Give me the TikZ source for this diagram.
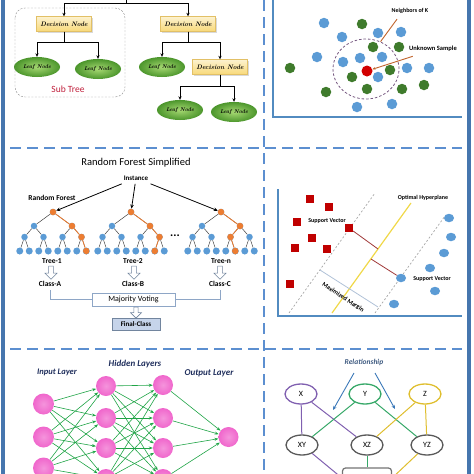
\documentclass[tikz,border=0pt]{standalone}
\usepackage{fontspec}
\newfontfamily\carlito{Carlito}
\usetikzlibrary{arrows.meta,shapes.geometric,shapes.arrows,shadows}
\newcommand\fsz[1]{\fontsize{#1}{#1}\selectfont}
\definecolor{framebl}{HTML}{4676AE}
\definecolor{dashbl}{HTML}{5C8FD0}
\definecolor{decfill}{HTML}{F8D978}
\definecolor{decdraw}{HTML}{E2C066}
\definecolor{leafin}{HTML}{A6D872}
\definecolor{leafout}{HTML}{4C962C}
\definecolor{knnblue}{HTML}{5B9BD5}
\definecolor{knngreen}{HTML}{3F7B2C}
\definecolor{knnline}{HTML}{C0642C}
\definecolor{rforange}{HTML}{ED7D31}
\definecolor{rfblue}{HTML}{5B9BD5}
\definecolor{boxgray}{HTML}{8EA6C6}
\definecolor{finalfill}{HTML}{C6D4EA}
\definecolor{svmred}{HTML}{C00000}
\definecolor{svmline}{HTML}{A03838}
\definecolor{hyper}{HTML}{F0D848}
\definecolor{pinknode}{HTML}{F066CC}
\definecolor{nngreen}{HTML}{1FA446}
\definecolor{navy}{HTML}{1F2E5C}
\definecolor{relpurple}{HTML}{8060B0}
\definecolor{relgreen}{HTML}{36A868}
\definecolor{relyellow}{HTML}{DFBE2E}
\definecolor{relblue}{HTML}{3A78B8}
\definecolor{reltext}{HTML}{3E5A80}

\begin{document}
\begin{tikzpicture}[x=1pt,y=-1pt,
  divider/.style={draw=dashbl,line width=2pt,dash pattern=on 11pt off 6pt},
  decnode/.style={draw=decdraw,top color=decfill!35!white,bottom color=decfill,
    drop shadow={opacity=0.3,shadow xshift=1pt,shadow yshift=-1pt},
    minimum width=55pt,minimum height=15pt,inner sep=0pt,font=\fsz{6.5}\bfseries\itshape},
  leafnode/.style={ellipse,inner color=leafin,outer color=leafout,
    minimum width=46pt,minimum height=20pt,inner sep=0pt,font=\fsz{5.5}\bfseries\itshape},
  treearrow/.style={draw,line width=0.9pt,-{Stealth[length=3.5pt,width=3.2pt]}},
  knnpt/.style={circle,minimum size=10.5pt,inner sep=0pt},
  axisline/.style={draw=knnblue!90!black,line width=1.2pt},
  lbl/.style={font=\carlito\fsz{7}\bfseries},
  rfdot/.style={circle,fill=rfblue,minimum size=6.5pt,inner sep=0pt},
  rfedge/.style={draw=black!75,line width=0.5pt},
  rfhot/.style={draw=rforange,line width=0.8pt},
  hollowarrow/.style={single arrow,draw=boxgray!80!black,fill=white,line width=0.6pt,
    shape border rotate=270,minimum height=13pt,minimum width=12pt,
    single arrow head extend=2pt,inner sep=1pt},
  svsq/.style={rectangle,fill=svmred,minimum size=8pt,inner sep=0pt},
  svdot/.style={ellipse,fill=knnblue,minimum width=10pt,minimum height=8.5pt,inner sep=0pt},
  neuron/.style={circle,inner color=pinknode!70!white,outer color=pinknode,minimum size=20pt,inner sep=0pt},
  nnarrow/.style={draw=nngreen,line width=0.6pt,-{Stealth[length=4pt,width=3pt]}},
  setnode/.style={ellipse,draw,line width=1.3pt,minimum width=32pt,minimum height=20pt,
    inner sep=0pt,font=\carlito\fsz{8}}]
\useasboundingbox (0,0) rectangle (474,474);
\clip (0,0) rectangle (474,474);

% frame and dividers
\fill[framebl] (1,0) rectangle (5,474);
\fill[framebl] (467,0) rectangle (471,474);
\path[divider] (10,148) -- (462,148);
\path[divider] (10,349) -- (462,349);
\path[divider] (264,0) -- (264,474);

% decision tree
\coordinate (top) at (126,3);
\node[decnode] (dn1) at (64,24) {Decision Node};
\node[decnode] (dn2) at (188,24) {Decision Node};
\node[leafnode] (lf1) at (37,67) {Leaf Node};
\node[leafnode] (lf2) at (98,69) {Leaf Node};
\node[leafnode] (lf3) at (162,67) {Leaf Node};
\node[decnode] (dn3) at (220,67) {Decision Node};
\node[leafnode] (lf4) at (180,110) {Leaf Node};
\node[leafnode] (lf5) at (234,112) {Leaf Node};
\path[draw,line width=0.9pt] (top) -- ++(0,-5);
\path[treearrow] (top) -| (dn1.north);
\path[treearrow] (top) -| (dn2.north);
\path[treearrow] (dn1.south) -- ++(0,10.5) -| (lf1.north);
\path[treearrow] (dn1.south) -- ++(0,10.5) -| (lf2.north);
\path[treearrow] (dn2.south) -- ++(0,10.5) -| (lf3.north);
\path[treearrow] (dn2.south) -- ++(0,10.5) -| (dn3.north);
\path[treearrow] (dn3.south) -- ++(0,11.5) -| (lf4.north);
\path[treearrow] (dn3.south) -- ++(0,11.5) -| (lf5.north);
\draw[black!45,dash pattern=on 2pt off 1.5pt,rounded corners=10pt] (15,8) rectangle (125,97);
\node[font=\carlito\fsz{9.5},text={rgb,255:red,192;green,32;blue,60}] (sub) at (68,89) {Sub Tree};

% k nearest neighbours
\path[axisline] (273,0) |- (462,117);
\foreach [count=\k] \p in {(324,23),(342,37),(378,33),(401,32),(317,57),(343,62),(360,58),
    (382,57),(407,68),(429,68),(378,77),(357,107),(392,104)}
  \node[knnpt,fill=knnblue] (b\k) at \p {};
\foreach [count=\k] \p in {(362,24),(373,47),(399,47),(290,68),(390,70),(352,77),(326,92),
    (367,89),(402,89),(424,85)}
  \node[knnpt,fill=knngreen] (g\k) at \p {};
\node[knnpt,fill={rgb,255:red,210;green,0;blue,0},minimum size=11pt] (unk) at (367,71) {};
\node[draw={rgb,255:red,120;green,90;blue,130},dash pattern=on 2.5pt off 2pt,line width=0.8pt,
  ellipse,minimum width=66pt,minimum height=60pt] (nbr) at (366,69) {};
\node[lbl,font=\carlito\fsz{6}\bfseries] (nk) at (410,11) {Neighbors of K};
\node[lbl,font=\carlito\fsz{6.5}\bfseries] (us) at (433,49) {Unknown Sample};
\path[draw=knnline,line width=0.9pt] ([xshift=-13pt,yshift=-2pt]nk.south) -- (nbr.62);
\path[draw=knnline,line width=0.9pt,-{Stealth[length=3pt,width=2.5pt]}]
  ([xshift=7pt,yshift=-1pt]us.south west) -- (unk);

% random forest
\newcommand\rftree[2]{
\node[rfdot] (#1r) at (#2,212) {};
\foreach \p/\dx in {a/-19,b/19}{
  \node[rfdot] (#1\p) at ({#2+\dx},226) {};
  \path[rfedge] (#1r) -- (#1\p);}
\foreach \p/\q/\dx in {aa/a/-28.5,ab/a/-9.5,ba/b/9.5,bb/b/28.5}{
  \node[rfdot] (#1\p) at ({#2+\dx},237) {};
  \path[rfedge] (#1\q) -- (#1\p);}
\foreach \p/\q/\dx in {aaa/aa/-33.25,aab/aa/-23.75,aba/ab/-14.25,abb/ab/-4.75,
    baa/ba/4.75,bab/ba/14.25,bba/bb/23.75,bbb/bb/33.25}{
  \node[rfdot,minimum size=7pt] (#1\p) at ({#2+\dx},251) {};
  \path[rfedge] (#1\q) -- (#1\p);}
}
\node[font=\carlito\fsz{10.5}] (rftitle) at (136,163) {Random Forest Simplified};
\node[lbl] (inst) at (136,178) {Instance};
\node[lbl,font=\carlito\fsz{7.5}\bfseries] (rfname) at (52,198) {Random Forest};
\rftree{t1}{53}
\rftree{t2}{131}
\rftree{t3}{221}
\path[rfhot] (t1r) -- (t1b) -- (t1bb) -- (t1bbb);
\foreach \n in {r,b,bb,bbb} \node[rfdot,fill=rforange] at (t1\n) {};
\path[rfhot] (t2r) -- (t2b) -- (t2bb) -- (t2bba);
\foreach \n in {r,b,bb,bba} \node[rfdot,fill=rforange] at (t2\n) {};
\path[rfhot] (t3r) -- (t3b) -- (t3ba) -- (t3bab);
\foreach \n in {r,b,ba,bab} \node[rfdot,fill=rforange] at (t3\n) {};
\path[draw,line width=0.8pt,-{Stealth[length=4pt,width=3.5pt]}] (inst) -- (t1r);
\path[draw,line width=0.8pt,-{Stealth[length=4pt,width=3.5pt]}] (inst) -- (t2r);
\path[draw,line width=0.8pt,-{Stealth[length=4pt,width=3.5pt]}] (inst) -- (t3r);
\node[font=\carlito\fsz{12}\bfseries] (dots) at (175,236) {...};
\node[lbl,font=\carlito\fsz{7.5}\bfseries] (tr1) at (52,261) {Tree-1};
\node[lbl,font=\carlito\fsz{7.5}\bfseries] (tr2) at (133,261) {Tree-2};
\node[lbl,font=\carlito\fsz{7.5}\bfseries] (trn) at (221,261) {Tree-n};
\node[hollowarrow] (ha1) at (51,271.5) {};
\node[hollowarrow] (ha2) at (134,271.5) {};
\node[hollowarrow] (ha3) at (220,271.5) {};
\node[lbl,font=\carlito\fsz{7.5}\bfseries] (cla) at (50,284) {Class-A};
\node[lbl,font=\carlito\fsz{7.5}\bfseries] (clb) at (133,284) {Class-B};
\node[lbl,font=\carlito\fsz{7.5}\bfseries] (clc) at (220,284) {Class-C};
\node[draw=boxgray,line width=0.8pt,minimum width=83pt,minimum height=13pt,inner sep=0pt,
  font=\carlito\fsz{8}] (mv) at (133.5,299.5) {Majority Voting};
\path[draw=boxgray,line width=0.8pt] (cla) |- (mv.west);
\path[draw=boxgray,line width=0.8pt] (clc) |- (mv.east);
\node[hollowarrow,minimum height=11pt,minimum width=11pt] (ha4) at (136,311.5) {};
\node[draw=boxgray!80!black,fill=finalfill,line width=0.6pt,minimum width=48pt,minimum height=12pt,
  inner sep=0pt,font=\carlito\fsz{7}\bfseries] (fc) at (136,324) {Final-Class};

% support vector machine
\path[axisline] (278,189) |- (462,316);
\path[draw=black!35,dash pattern=on 2pt off 2pt,line width=0.7pt] (289,313) -- (375,193);
\path[draw=black!35,dash pattern=on 2pt off 2pt,line width=0.7pt] (375,313) -- (445,216);
\path[draw=hyper,line width=1.2pt] (332,313) -- (411,203);
\foreach [count=\k] \p in {(310,199),(329,207),(297,222),(312,238),(295,248),(327,249),(290,284)}
  \node[svsq] (sq\k) at \p {};
\foreach [count=\k] \p in {(449,218),(451,237),(444,253),(430,268),(435,291),(394,304)}
  \node[svdot] (ci\k) at \p {};
\node[svsq] (sv1) at (349,228) {};
\node[svdot] (sv2) at (401,278) {};
\coordinate (ft1) at (378,249);
\coordinate (ft2) at (371,259);
\path[draw=svmline,line width=0.8pt] (sv1) -- (ft1);
\path[draw=svmline,line width=0.8pt] (ft2) -- (sv2);
\coordinate (mg1) at (320,270);
\coordinate (mg2) at (378,307);
\path[draw=boxgray!70,line width=0.8pt] (mg1) -- (mg2);
\node[lbl,font=\carlito\fsz{6.3}\bfseries,rotate=-33.5] (mgl) at (343,297.5) {Maximized Margin};
\node[lbl,font=\carlito\fsz{6}\bfseries] (svl1) at (327,221) {Support Vector};
\node[lbl,font=\carlito\fsz{6}\bfseries] (svl2) at (432,279) {Support Vector};
\node[lbl,font=\carlito\fsz{6}\bfseries] (hpl) at (423,198) {Optimal Hyperplane};

% neural network
\node[font=\carlito\fsz{8.5}\bfseries\itshape,text=navy] (inl) at (57,372) {Input Layer};
\node[font=\carlito\fsz{9}\bfseries\itshape,text=navy] (hdl) at (135,364) {Hidden Layers};
\node[font=\carlito\fsz{9}\bfseries\itshape,text=navy] (outl) at (209,373) {Output Layer};
\foreach \y [count=\k] in {404,437,468} \node[neuron,minimum size=21pt] (in\k) at (43.5,\y) {};
\foreach \y [count=\k] in {386,418,448,479} \node[neuron] (ha\k) at (106,\y) {};
\foreach \y [count=\k] in {385,418,448,479} \node[neuron] (hb\k) at (163,\y) {};
\node[neuron] (out1) at (228.5,437) {};
\foreach \i in {1,2,3} \foreach \j in {1,...,4} \path[nnarrow] (in\i) -- (ha\j);
\foreach \i in {1,...,4} \foreach \j in {1,...,4} \path[nnarrow] (ha\i) -- (hb\j);
\foreach \i in {1,...,4} \path[nnarrow] (hb\i) -- (out1);

% relationship
\node[font=\carlito\fsz{7.5}\bfseries\itshape,text=reltext] (rel) at (364,362) {Relationship};
\coordinate (ra1) at (354,373);
\coordinate (ra2) at (333,410);
\coordinate (ra3) at (375,373);
\coordinate (ra4) at (395,409);
\path[draw=relblue,line width=0.9pt,-{Stealth[length=4pt,width=3.5pt]}] (ra1) -- (ra2);
\path[draw=relblue,line width=0.9pt,-{Stealth[length=4pt,width=3.5pt]}] (ra3) -- (ra4);
\node[setnode,draw=relpurple] (x) at (301,394) {X};
\node[setnode,draw=relgreen] (y) at (365,394) {Y};
\node[setnode,draw=relyellow] (z) at (425,394) {Z};
\node[setnode,draw=black!65] (xy) at (302,445) {XY};
\node[setnode,draw=black!65] (xz) at (367,445) {XZ};
\node[setnode,draw=black!65] (yz) at (427,445) {YZ};
\node[draw=black!55,line width=1.2pt,rounded corners=3pt,minimum width=49pt,minimum height=20pt] (xyz) at (367,478) {};
\path[draw=relpurple,line width=1pt] (x) -- (xy);
\path[draw=relpurple,line width=1pt] (x) -- (xz);
\path[draw=relgreen,line width=1pt] (y) -- (xy);
\path[draw=relgreen,line width=1pt] (y) -- (yz);
\path[draw=relyellow,line width=1pt] (z) -- (xz);
\path[draw=relyellow,line width=1pt] (z) -- (yz);
\path[draw=relpurple,line width=1pt] (xy) -- (xyz.west);
\path[draw=relgreen,line width=1pt] (xz) -- (xyz.north);
\path[draw=relyellow,line width=1pt] (yz) -- (xyz.east);
\end{tikzpicture}
\end{document}
